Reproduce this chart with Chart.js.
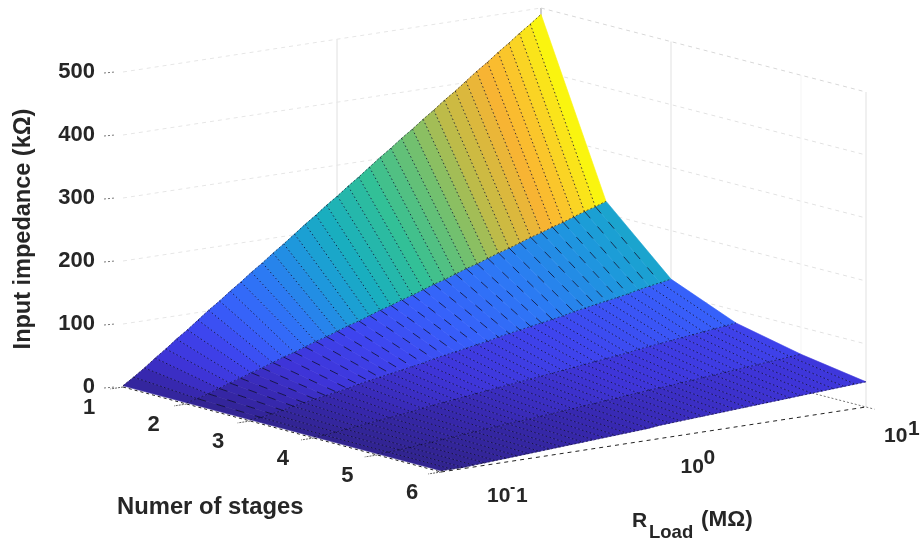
<!DOCTYPE html>
<html>
<head>
<meta charset="utf-8">
<style>
  html, body { margin: 0; padding: 0; background: #fff; }
  #wrap { width: 922px; height: 543px; }
</style>
<script src="https://cdn.jsdelivr.net/npm/chart.js@4"></script>
</head>
<body>
<div id="wrap"><canvas id="graph" width="922" height="543"></canvas></div>
<script>
var stages = [1, 2, 3, 4, 5, 6];
var zTicks = [0, 100, 200, 300, 400, 500];

// log10 of R load (MOhm), one entry per mesh line
var rLoadExp = [-1.000, -0.949, -0.897, -0.846, -0.795, -0.744, -0.692, -0.641, -0.590, -0.538,
    -0.487, -0.436, -0.385, -0.333, -0.282, -0.231, -0.179, -0.128, -0.077, -0.026,
    0.026, 0.077, 0.128, 0.179, 0.231, 0.282, 0.333, 0.385, 0.436, 0.487,
    0.538, 0.590, 0.641, 0.692, 0.744, 0.795, 0.846, 0.897, 0.949, 1.000];

// input impedance in kOhm
var impedance1 = [2, 13, 25, 38, 50, 63, 75, 88, 101, 113, 126, 138, 151, 163, 176, 188, 201, 214, 226, 239,
    251, 264, 276, 289, 302, 314, 327, 339, 352, 364, 377, 389, 402, 415, 427, 440, 452, 465, 477, 490];
var impedance2 = [2, 6, 11, 17, 23, 28, 34, 39, 45, 51, 56, 62, 68, 73, 79, 85, 90, 96, 102, 107,
    113, 118, 124, 130, 135, 141, 147, 152, 158, 164, 169, 175, 181, 186, 192, 197, 203, 209, 214, 220];
var impedance3 = [2, 3, 6, 9, 13, 16, 19, 22, 25, 28, 32, 35, 38, 41, 44, 47, 50, 54, 57, 60,
    63, 66, 69, 73, 76, 79, 82, 85, 88, 91, 95, 98, 101, 104, 107, 110, 114, 117, 120, 123];
var impedance4 = [2, 2, 4, 6, 8, 10, 12, 14, 16, 18, 21, 23, 25, 27, 29, 31, 33, 35, 37, 39,
    41, 43, 45, 47, 49, 51, 53, 55, 57, 59, 62, 64, 66, 68, 70, 72, 74, 76, 78, 80];
var impedance5 = [2, 2, 3, 4, 6, 7, 9, 10, 12, 13, 15, 16, 18, 19, 20, 22, 23, 25, 26, 28,
    29, 31, 32, 34, 35, 37, 38, 39, 41, 42, 44, 45, 47, 48, 50, 51, 53, 54, 56, 57];
var impedance6 = [2, 2, 2, 3, 4, 5, 6, 7, 8, 9, 10, 11, 12, 13, 14, 15, 16, 17, 18, 19,
    21, 22, 23, 24, 25, 26, 27, 28, 29, 30, 31, 32, 33, 34, 35, 36, 37, 38, 39, 40];
var impedance = [impedance1, impedance2, impedance3, impedance4, impedance5, impedance6];

// colour bar as seen on the surface: impedance level and its colour
var colorLevels = [0, 25, 50, 85, 120, 160, 205, 240, 290, 340, 380, 430, 460, 490];
var colorValues = [[48, 35, 140], [55, 40, 175], [62, 52, 215], [62, 68, 238], [55, 95, 250], [45, 120, 245],
    [28, 155, 218], [25, 175, 190], [50, 192, 150], [115, 192, 110], [195, 187, 70], [250, 180, 50],
    [250, 205, 40], [250, 245, 15]];

// view of the 3d box: floor corners and height of one kOhm on the 922x543 plane
var floorA = [123, 387], floorB = [441, 472], floorC = [866, 407], floorD = [541, 323];
var zScale = 0.63;

function project(stage, logR, z) {
    var s = (stage - 1) / 5,
        t = (logR + 1) / 2;
    var x = (1 - s) * (1 - t) * floorA[0] + s * (1 - t) * floorB[0] + s * t * floorC[0] + (1 - s) * t * floorD[0];
    var y = (1 - s) * (1 - t) * floorA[1] + s * (1 - t) * floorB[1] + s * t * floorC[1] + (1 - s) * t * floorD[1];
    return {x: x, y: y - z * zScale};
}

function surfaceColor(z) {
    var i = 0;
    while (i < colorLevels.length - 2 && z > colorLevels[i + 1]) i++;
    var f = Math.min(1, Math.max(0, (z - colorLevels[i]) / (colorLevels[i + 1] - colorLevels[i])));
    var c = [0, 1, 2].map(function (k) {
        return Math.round(colorValues[i][k] + (colorValues[i + 1][k] - colorValues[i][k]) * f);
    });
    return 'rgb(' + c.join(',') + ')';
}

function lineSet(points, color, width, dash) {
    return {
        type: 'scatter',
        data: points,
        showLine: true,
        fill: false,
        borderColor: color,
        borderWidth: width,
        borderDash: dash || [],
        pointRadius: 0,
        spanGaps: false
    };
}

var datasets = [];
var i, j;

// mesh lines go on top (first dataset is painted last)
var bandDash = [[1.5, 2.5], [9, 11], [1.5, 2.5], [1.5, 2.5], [1.5, 2.5]];
for (i = 0; i < 5; i++) {
    var mesh = [];
    for (j = 1; j < rLoadExp.length - 1; j++) {
        mesh.push(project(stages[i], rLoadExp[j], impedance[i][j]));
        mesh.push(project(stages[i + 1], rLoadExp[j], impedance[i + 1][j]));
        mesh.push({x: NaN, y: NaN});
    }
    datasets.push(lineSet(mesh, 'rgba(10,10,40,0.85)', 0.9, bandDash[i]));
}
stages.forEach(function (st, k) {
    var pts = rLoadExp.map(function (r, n) {
        return project(st, r, impedance[k][n]);
    });
    datasets.push(lineSet(pts, 'rgba(10,10,40,0.75)', 0.8, [2, 2]));
});

// surface facets, colour taken from the lower index corner
for (i = 0; i < 5; i++) {
    for (j = 0; j < rLoadExp.length - 1; j++) {
        var col = surfaceColor(impedance[i][j + 1]);
        datasets.push({
            type: 'scatter',
            data: [
                project(stages[i], rLoadExp[j], impedance[i][j]),
                project(stages[i], rLoadExp[j + 1], impedance[i][j + 1]),
                project(stages[i + 1], rLoadExp[j + 1], impedance[i + 1][j + 1]),
                project(stages[i + 1], rLoadExp[j], impedance[i + 1][j]),
                project(stages[i], rLoadExp[j], impedance[i][j])
            ],
            showLine: true,
            fill: 'shape',
            backgroundColor: col,
            borderColor: col,
            borderWidth: 0.6,
            pointRadius: 0
        });
    }
}

// box edges and ticks
datasets.push(lineSet([project(1, -1, 0), project(6, -1, 0)], '#222', 1, [3, 3]));
datasets.push(lineSet([project(6, -1, 0), project(6, 1, 0)], '#222', 1, [4, 4]));
datasets.push(lineSet([project(1, 1, 0), project(6.13, 1, 0)], '#777', 1, [2, 2]));
stages.forEach(function (st) {
    datasets.push(lineSet([project(st, -1, 0), project(st, -1.06, 0)], '#666', 1, [2, 1]));
});
zTicks.forEach(function (z) {
    var p = project(1, -1, z);
    datasets.push(lineSet([{x: p.x - 19, y: p.y + 1}, {x: p.x - 8, y: p.y}], '#777', 1, [2, 2]));
});

// back walls
var wallStages = [3, 5, 6];
var wallAlpha = [0.12, 0.04, 0.12];
var rGridExp = [0.024];
zTicks.forEach(function (z) {
    if (z === 0) return;
    datasets.push(lineSet([project(1, -1, z), project(1, 1, z)], '#e6e6e6', 1, [4, 4]));
    datasets.push(lineSet([project(1, 1, z), project(6, 1, z)], z === 500 ? '#d8d8d8' : '#e2e2e2', 1, [4, 4]));
});
wallStages.forEach(function (st, k) {
    datasets.push(lineSet([project(st, 1, 0), project(st, 1, 500)], 'rgba(0,0,0,' + wallAlpha[k] + ')', 1));
});
rGridExp.forEach(function (r) {
    datasets.push(lineSet([project(1, r, 0), project(1, r, 500)], 'rgba(0,0,0,0.12)', 1));
});
datasets.push(lineSet([project(1, 1, 480), project(1, 1, 500)], '#999', 1));

function tickText(ctx, text, x, y, size, weight, align) {
    ctx.font = (weight || 'bold') + ' ' + size + 'px "Liberation Sans", Arial, sans-serif';
    ctx.textAlign = align || 'left';
    ctx.textBaseline = 'alphabetic';
    ctx.fillText(text, x, y);
}

var axisText = {
    id: 'axisText',
    afterDraw: function (chart) {
        var ctx = chart.ctx,
            sx = chart.scales.x,
            sy = chart.scales.y;

        function px(p) {
            return {x: sx.getPixelForValue(p.x), y: sy.getPixelForValue(p.y)};
        }

        ctx.save();
        ctx.fillStyle = '#262626';

        zTicks.forEach(function (z) {
            var p = px(project(1, -1, z));
            tickText(ctx, String(z), p.x - 28, p.y + 5.5, 22, 'bold', 'right');
        });
        stages.forEach(function (st) {
            var p = px(project(st, -1, 0));
            tickText(ctx, String(st), p.x - 34 + (st - 1), p.y + 27, 22, 'bold', 'center');
        });

        var p0 = px(project(6, -1, 0));
        tickText(ctx, '10', p0.x + 46, p0.y + 30, 21);
        tickText(ctx, '-', p0.x + 69, p0.y + 20, 16);
        tickText(ctx, '1', p0.x + 75, p0.y + 30, 21);
        var p1 = px(project(6, 0, 0));
        tickText(ctx, '10', p1.x + 27, p1.y + 33, 21);
        tickText(ctx, '0', p1.x + 50, p1.y + 24, 21);
        var p2 = px(project(6, 1, 0));
        tickText(ctx, '10', p2.x + 18, p2.y + 35, 21);
        tickText(ctx, '1', p2.x + 42, p2.y + 28, 21);

        tickText(ctx, 'Numer of stages', 117, 514, 23.8);
        tickText(ctx, 'R', 632, 527, 21);
        tickText(ctx, 'Load', 649, 538, 18.5);
        tickText(ctx, '(M\u03A9)', 701, 526, 22.5);

        ctx.translate(30, 229);
        ctx.rotate(-Math.PI / 2);
        tickText(ctx, 'Input impedance (k\u03A9)', 0, 0, 23.5, 'bold', 'center');
        ctx.restore();
    }
};

new Chart(document.getElementById('graph').getContext('2d'), {
    data: {datasets: datasets},
    options: {
        responsive: false,
        animation: false,
        events: [],
        layout: {padding: 0},
        plugins: {legend: {display: false}, tooltip: {enabled: false}},
        scales: {
            x: {type: 'linear', min: 0, max: 922, display: false},
            y: {type: 'linear', min: 0, max: 543, reverse: true, display: false}
        }
    },
    plugins: [axisText]
});
</script>
</body>
</html>
